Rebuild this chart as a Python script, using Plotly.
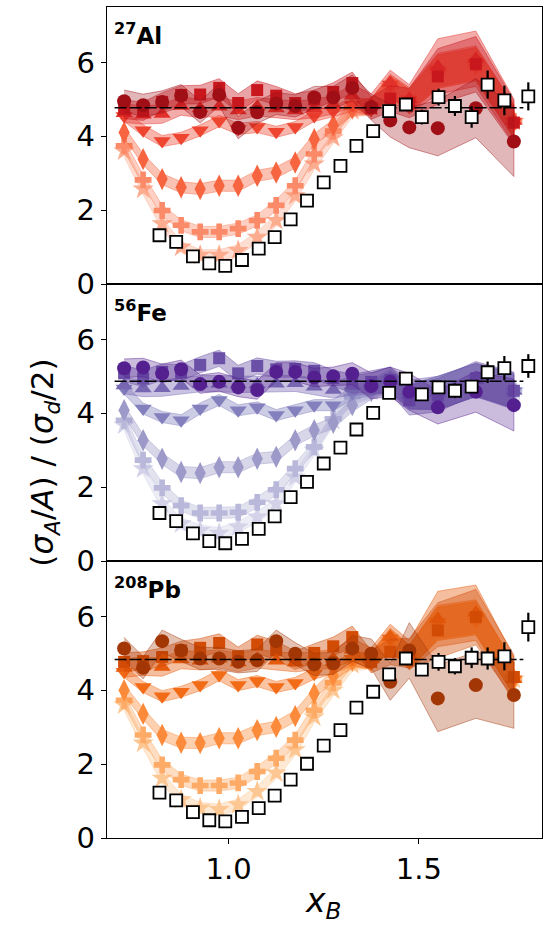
import plotly.graph_objects as go
from plotly.subplots import make_subplots

# ---------------- data ----------------
X_MODEL = [0.725, 0.775, 0.825, 0.875, 0.925, 0.975, 1.025, 1.075, 1.125, 1.175,
           1.225, 1.275, 1.325, 1.375, 1.425, 1.475, 1.55, 1.65, 1.75]
X_DATA = [0.818, 0.862, 0.906, 0.949, 0.991, 1.035, 1.079, 1.121, 1.163, 1.206,
          1.250, 1.294, 1.336, 1.380, 1.422, 1.466, 1.508, 1.552, 1.595, 1.639,
          1.681, 1.725, 1.788]

# 27Al
al_circle = [4.95, 4.84, 4.93, 5.10, 4.66, 5.12, 4.23, 4.65, 4.89, 4.82, 5.05, 5.05, 5.31, 4.79, 4.43, 4.24, 4.22, 4.76, 3.86]
al_square = [4.73, 4.68, 4.93, 5.12, 5.13, 5.31, 4.90, 5.25, 5.10, 4.90, 5.00, 5.20, 5.44, 4.76, 5.02, 4.90, 5.62, 5.95, 4.37]
al_triup = [4.62, 4.58, 4.60, 4.82, 4.75, 4.80, 4.70, 4.80, 4.75, 4.70, 4.75, 4.85, 5.10, 4.85, 5.44, 5.00, 5.89, 6.10, 4.41]
al_tridown = [4.55, 4.16, 3.87, 3.96, 4.16, 4.41, 4.20, 4.25, 4.12, 4.25, 4.55, 4.68, 4.85, 4.80, 5.40, 5.00, 5.80, 6.00, 4.40]
al_diamond = [4.10, 3.38, 2.84, 2.62, 2.57, 2.66, 2.66, 2.93, 3.02, 3.29, 3.92, 4.30, 4.75, 4.80, 5.35, 4.95, 5.75, 5.95, 4.40]
al_plus = [3.74, 2.82, 1.99, 1.59, 1.41, 1.41, 1.50, 1.72, 2.13, 2.66, 3.52, 4.14, 4.78, 4.80, 5.35, 4.95, 5.75, 5.95, 4.40]
al_star = [3.60, 2.57, 1.63, 1.00, 0.78, 0.78, 0.91, 1.27, 1.72, 2.39, 3.25, 3.96, 4.70, 4.80, 5.35, 4.95, 5.75, 5.95, 4.40]
al_data = [1.32, 1.14, 0.75, 0.56, 0.49, 0.65, 0.96, 1.27, 1.75, 2.26, 2.75, 3.20, 3.74, 4.14, 4.68, 4.86, 4.52, 5.06, 4.82, 4.52, 5.40, 4.97, 5.08]
al_data_err = [0.03, 0.03, 0.03, 0.03, 0.03, 0.03, 0.03, 0.03, 0.03, 0.03, 0.03, 0.03, 0.03, 0.03, 0.05, 0.08, 0.20, 0.23, 0.27, 0.29, 0.38, 0.40, 0.38]
al_circle_band = [0.30, 0.30, 0.30, 0.30, 0.30, 0.30, 0.30, 0.30, 0.30, 0.30, 0.30, 0.30, 0.35, 0.35, 0.45, 0.55, 0.75, 0.80, 0.95]
al_upper_band = [0.25, 0.25, 0.25, 0.25, 0.25, 0.25, 0.25, 0.25, 0.25, 0.25, 0.25, 0.25, 0.30, 0.30, 0.35, 0.40, 0.75, 0.75, 0.60]

# 56Fe
fe_circle = [5.22, 5.24, 5.08, 5.19, 4.79, 4.85, 4.70, 4.63, 5.12, 5.12, 4.97, 5.00, 5.07, 4.74, 4.85, 4.58, 4.16, 4.58, 4.22]
fe_square = [5.08, 4.94, 5.12, 5.10, 5.31, 5.49, 5.08, 5.28, 5.19, 5.20, 5.15, 4.95, 4.80, 4.85, 4.90, 4.35, 4.49, 4.95, 4.61]
fe_triup = [4.75, 4.67, 4.68, 4.74, 4.80, 4.80, 4.78, 4.78, 4.80, 4.81, 4.72, 4.63, 4.75, 4.80, 4.90, 4.50, 4.55, 4.90, 4.60]
fe_tridown = [4.67, 4.13, 3.90, 3.81, 4.13, 4.36, 4.08, 4.16, 3.95, 4.08, 4.22, 4.22, 4.55, 4.70, 4.90, 4.45, 4.55, 4.90, 4.60]
fe_diamond = [4.08, 3.27, 2.77, 2.41, 2.38, 2.54, 2.54, 2.77, 2.82, 3.27, 3.54, 3.74, 4.22, 4.60, 4.85, 4.45, 4.55, 4.90, 4.60]
fe_plus = [3.81, 2.73, 1.98, 1.50, 1.30, 1.30, 1.32, 1.59, 1.93, 2.50, 3.09, 3.85, 4.45, 4.65, 4.85, 4.45, 4.55, 4.90, 4.60]
fe_star = [3.68, 2.50, 1.55, 1.01, 0.83, 0.75, 0.92, 1.19, 1.55, 2.27, 3.00, 3.80, 4.40, 4.60, 4.85, 4.45, 4.55, 4.90, 4.60]
fe_data = [1.30, 1.08, 0.75, 0.54, 0.48, 0.60, 0.87, 1.21, 1.73, 2.14, 2.64, 3.07, 3.56, 4.01, 4.55, 4.94, 4.51, 4.70, 4.61, 4.72, 5.11, 5.22, 5.28]
fe_data_err = [0.03, 0.03, 0.03, 0.03, 0.03, 0.03, 0.03, 0.03, 0.03, 0.03, 0.03, 0.03, 0.03, 0.03, 0.05, 0.06, 0.08, 0.10, 0.20, 0.12, 0.29, 0.33, 0.32]
fe_circle_band = [0.25, 0.25, 0.25, 0.25, 0.25, 0.25, 0.25, 0.25, 0.25, 0.25, 0.25, 0.25, 0.30, 0.35, 0.40, 0.50, 0.45, 0.55, 0.70]
fe_upper_band = [0.22, 0.22, 0.22, 0.22, 0.22, 0.22, 0.22, 0.22, 0.22, 0.22, 0.22, 0.22, 0.25, 0.30, 0.35, 0.40, 0.45, 0.45, 0.50]

# 208Pb
pb_circle = [5.13, 4.61, 5.33, 5.08, 4.86, 4.86, 4.77, 4.81, 5.33, 4.99, 4.70, 4.73, 5.13, 4.99, 4.23, 5.08, 3.78, 4.14, 3.87]
pb_square = [4.77, 4.79, 4.90, 5.08, 5.15, 5.28, 4.92, 5.24, 5.08, 4.81, 5.01, 5.19, 5.44, 4.77, 5.04, 5.00, 5.62, 5.98, 4.36]
pb_triup = [4.60, 4.65, 4.63, 4.83, 4.80, 4.85, 4.75, 4.85, 4.80, 4.75, 4.80, 4.85, 5.10, 4.85, 5.44, 4.95, 5.93, 6.10, 4.30]
pb_tridown = [4.50, 4.09, 3.84, 3.96, 4.14, 4.41, 4.14, 4.25, 4.09, 4.20, 4.45, 4.60, 4.85, 4.80, 5.40, 4.90, 5.85, 6.00, 4.30]
pb_diamond = [4.00, 3.36, 2.79, 2.58, 2.57, 2.70, 2.70, 2.92, 3.01, 3.30, 3.91, 4.40, 4.80, 4.80, 5.35, 4.90, 5.80, 5.95, 4.30]
pb_plus = [3.73, 2.79, 1.98, 1.58, 1.42, 1.42, 1.49, 1.80, 2.16, 2.65, 3.46, 4.20, 4.80, 4.80, 5.35, 4.90, 5.80, 5.95, 4.30]
pb_star = [3.60, 2.57, 1.62, 1.04, 0.81, 0.77, 0.90, 1.26, 1.76, 2.39, 3.28, 4.00, 4.70, 4.80, 5.35, 4.90, 5.80, 5.95, 4.30]
pb_data = [1.23, 1.02, 0.70, 0.48, 0.45, 0.57, 0.81, 1.15, 1.58, 2.01, 2.50, 2.92, 3.53, 3.96, 4.43, 4.86, 4.56, 4.77, 4.65, 4.88, 4.86, 4.92, 5.71]
pb_data_err = [0.03, 0.03, 0.03, 0.03, 0.03, 0.03, 0.03, 0.03, 0.03, 0.03, 0.03, 0.03, 0.03, 0.03, 0.05, 0.08, 0.10, 0.24, 0.22, 0.28, 0.30, 0.38, 0.39]
pb_circle_band = [0.30, 0.30, 0.30, 0.30, 0.30, 0.30, 0.30, 0.30, 0.30, 0.30, 0.30, 0.30, 0.35, 0.40, 0.50, 0.75, 0.90, 0.90, 0.90]
pb_upper_band = [0.25, 0.25, 0.25, 0.25, 0.25, 0.25, 0.25, 0.25, 0.25, 0.25, 0.25, 0.25, 0.30, 0.30, 0.35, 0.40, 0.75, 0.75, 0.60]

LIGHT_BAND = [0.15, 0.15, 0.15, 0.15, 0.15, 0.15, 0.15, 0.15, 0.15, 0.15, 0.15, 0.15, 0.18, 0.22, 0.28, 0.32, 0.45, 0.45, 0.45]

REF_LEVEL = [4.77, 4.87, 4.83]
REF_X = [0.70, 1.775]

NUCLEI = ["<b><sup>27</sup>Al</b>", "<b><sup>56</sup>Fe</b>", "<b><sup>208</sup>Pb</b>"]
AL_COLORS = ['#a00f16', '#c8171d', '#e2302a', '#ee4530', '#f6653f', '#fb8a68', '#fcad90']
FE_COLORS = ['#54208f', '#6a50a6', '#7766b2', '#8380bd', '#9d99c8', '#b9b8da', '#d3d2e8']
PB_COLORS = ['#a33605', '#d24c06', '#e65c0e', '#f26c18', '#fb8a3a', '#fdab66', '#fdc794']

SYMBOLS = ['circle', 'square', 'triangle-up', 'triangle-down', 'diamond-tall', 'cross', 'star']
SIZES = [14, 12, 15, 15, 16, 14, 16]

panels = [
    (AL_COLORS, [al_circle, al_square, al_triup, al_tridown, al_diamond, al_plus, al_star],
     [al_circle_band, al_upper_band, al_upper_band, LIGHT_BAND, LIGHT_BAND, LIGHT_BAND, LIGHT_BAND],
     al_data, al_data_err),
    (FE_COLORS, [fe_circle, fe_square, fe_triup, fe_tridown, fe_diamond, fe_plus, fe_star],
     [fe_circle_band, fe_upper_band, fe_upper_band, LIGHT_BAND, LIGHT_BAND, LIGHT_BAND, LIGHT_BAND],
     fe_data, fe_data_err),
    (PB_COLORS, [pb_circle, pb_square, pb_triup, pb_tridown, pb_diamond, pb_plus, pb_star],
     [pb_circle_band, pb_upper_band, pb_upper_band, LIGHT_BAND, LIGHT_BAND, LIGHT_BAND, LIGHT_BAND],
     pb_data, pb_data_err),
]


def rgba(hexcol, a):
    h = hexcol.lstrip('#')
    r, g, b = int(h[0:2], 16), int(h[2:4], 16), int(h[4:6], 16)
    return f"rgba({r},{g},{b},{a})"


fig = make_subplots(rows=3, cols=1, shared_xaxes=True, vertical_spacing=0)

for row, (cols, series, bands, data, derr) in enumerate(panels, start=1):
    # lightest series first, darkest last
    for k in range(6, -1, -1):
        y = series[k]
        e = bands[k]
        upper = [v + d for v, d in zip(y, e)]
        lower = [v - d for v, d in zip(y, e)]
        alpha = 0.3 if k == 0 else 0.4
        fig.add_trace(go.Scatter(
            x=X_MODEL + X_MODEL[::-1], y=upper + lower[::-1],
            fill='toself', fillcolor=rgba(cols[k], alpha),
            line=dict(color=rgba(cols[k], 0.45), width=1),
            mode='lines', hoverinfo='skip', showlegend=False), row=row, col=1)
        fig.add_trace(go.Scatter(
            x=X_MODEL, y=y, mode='markers',
            marker=dict(symbol=SYMBOLS[k], size=SIZES[k], color=cols[k], line=dict(width=0)),
            showlegend=False), row=row, col=1)
    fig.add_trace(go.Scatter(
        x=REF_X, y=[REF_LEVEL[row - 1]] * 2, mode='lines',
        line=dict(color='black', width=1.5, dash='12px,3px'),
        showlegend=False, hoverinfo='skip'), row=row, col=1)
    fig.add_trace(go.Scatter(
        x=X_DATA, y=data, mode='markers',
        marker=dict(symbol='square', size=12, color='white', line=dict(color='black', width=1.8)),
        error_y=dict(type='data', array=derr, color='black', thickness=2.2, width=0),
        showlegend=False), row=row, col=1)
    fig.add_annotation(text=NUCLEI[row - 1], xref='x domain', yref='y domain',
                       x=0.012, y=0.965, xanchor='left', yanchor='top', showarrow=False,
                       font=dict(size=23, color='black', family='DejaVu Sans'),
                       row=row, col=1)

axis_common = dict(showline=True, mirror=True, linecolor='black', linewidth=1.3,
                   showgrid=False, zeroline=False, tickcolor='black', tickwidth=1.3,
                   ticklen=5, tickfont=dict(size=29, color='black', family='DejaVu Sans'))
for r in (1, 2, 3):
    fig.update_yaxes(range=[0, 7.5], tickvals=[0, 2, 4, 6], ticks='outside', row=r, col=1, **axis_common)
    fig.update_xaxes(range=[0.68, 1.824], tickvals=[1.0, 1.5], ticktext=['1.0', '1.5'],
                     ticks='outside' if r == 3 else '', row=r, col=1, **axis_common)

fig.add_annotation(text="(<i>σ<sub>A</sub></i>/<i>A</i>) / (<i>σ<sub>d</sub></i>/2)",
                   xref='paper', yref='paper', x=-0.1425, y=0.4516, textangle=-90,
                   xanchor='center', yanchor='middle', showarrow=False,
                   font=dict(size=31, color='black', family='DejaVu Sans'))
fig.add_annotation(text="<i>x<sub>B</sub></i>", xref='paper', yref='paper', x=0.497, y=-0.078,
                   xanchor='center', yanchor='middle', showarrow=False,
                   font=dict(size=33, color='black', family='DejaVu Sans'))

fig.update_layout(width=549, height=926, margin=dict(l=107, r=7, t=7, b=88),
                  plot_bgcolor='white', paper_bgcolor='white', showlegend=False)

fig.write_html("out.html", config={'displayModeBar': False},
               post_script="document.body.style.margin='0px';")
